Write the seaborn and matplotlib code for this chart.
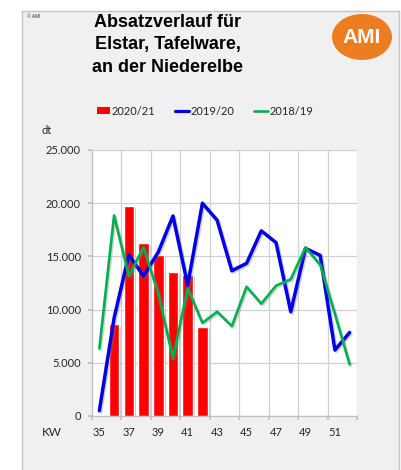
import numpy as np
import pandas as pd
import matplotlib
matplotlib.use("Agg")
import matplotlib.pyplot as plt
import matplotlib.patheffects as pe
from matplotlib.patches import Rectangle, Ellipse, Patch
from matplotlib.lines import Line2D
from matplotlib.ticker import FuncFormatter
import seaborn as sns

# ── data (dt per calendar week) ──
weeks = [35, 36, 37, 38, 39, 40, 41, 42, 43, 44, 45, 46, 47, 48, 49, 50, 51, 52]
season_2020 = [np.nan, 8600, 19700, 16300, 15100, 13500, 13250, 8400,
               np.nan, np.nan, np.nan, np.nan, np.nan, np.nan, np.nan, np.nan, np.nan, np.nan]
season_2019 = [500, 9200, 15150, 13150, 15400, 18800, 12300, 20000, 18400,
               13650, 14350, 17400, 16300, 9800, 15750, 15100, 6200, 7850]
season_2018 = [6350, 18850, 13150, 15850, 11500, 5400, 12000, 8750, 9800,
               8450, 12150, 10550, 12250, 12850, 15850, 14200, 9600, 4850]
labels = ["2020/21", "2019/20", "2018/19"]
colors = ["#ff0000", "#0000e8", "#00b050"]

df = pd.DataFrame({"KW": weeks, "pos": range(len(weeks)),
                   "2020/21": season_2020, "2019/20": season_2019, "2018/19": season_2018})

sns.set_theme(style="white")
plt.rcParams["font.family"] = ["Lato", "DejaVu Sans"]

W, H = 402, 470
fig = plt.figure(figsize=(W / 100, H / 100), dpi=100)
fig.patch.set_facecolor("white")

# grey panel behind everything
fig.patches.append(Rectangle((22 / W, -0.01), 377 / W, (H - 11) / H + 0.01,
                             transform=fig.transFigure, facecolor="#f0f0f0",
                             edgecolor="#c4c4c4", linewidth=1, zorder=-1))

ax = fig.add_axes([92 / W, 54 / H, 265 / W, 266 / H])
ax.set_zorder(2)
ax.set_facecolor("white")

bar_shadow = [pe.SimplePatchShadow(offset=(1.5, -1.5), shadow_rgbFace="#808080", alpha=0.45), pe.Normal()]
line_shadow = [pe.SimpleLineShadow(offset=(1, -1), shadow_color="#808080", alpha=0.35), pe.Normal()]

sns.barplot(data=df, x="pos", y="2020/21", order=list(range(len(weeks))),
            color=colors[0], saturation=1, width=0.72, native_scale=True, ax=ax, zorder=3)
for p in ax.patches:
    p.set_path_effects(bar_shadow)

sns.lineplot(data=df, x="pos", y="2019/20", color=colors[1], linewidth=2.5, ax=ax, zorder=4)
sns.lineplot(data=df, x="pos", y="2018/19", color=colors[2], linewidth=1.9, ax=ax, zorder=5)
for ln in ax.lines:
    ln.set_path_effects(line_shadow)

ax.set_xlim(-0.5, len(weeks) - 0.5)
ax.set_ylim(0, 25000)
ax.set_yticks(range(0, 25001, 5000))
ax.yaxis.set_major_formatter(FuncFormatter(lambda v, _: f"{int(v):,}".replace(",", ".")))

# grid lines sit on every second category boundary, labels sit under the categories
ax.set_xticks(np.arange(-0.5, len(weeks), 2))
ax.set_xticklabels([])
ax.set_xticks(range(0, len(weeks), 2), minor=True)
ax.set_xticklabels([str(w) for w in weeks[::2]], minor=True)
ax.tick_params(axis="x", which="major", length=3, color="#bfbfbf", direction="out", bottom=True)
ax.tick_params(axis="x", which="minor", length=0, pad=8, labelsize=8, labelcolor="#262626")
ax.tick_params(axis="y", length=3, color="#bfbfbf", direction="out", left=True,
               pad=5, labelsize=8, labelcolor="#262626")
ax.grid(True, axis="both", which="major", color="#d0d0d0", linewidth=0.9, zorder=0)
ax.set_axisbelow(True)
for side in ["top", "right"]:
    ax.spines[side].set_visible(False)
for side in ["left", "bottom"]:
    ax.spines[side].set_color("#bfbfbf")
    ax.spines[side].set_linewidth(0.9)
ax.set_xlabel("")
ax.set_ylabel("")

# axis captions
fig.text(42 / W, 1 - 131 / H, "dt", fontsize=8, color="#262626", va="center")
fig.text(42 / W, 1 - 432 / H, "KW", fontsize=8.5, color="#262626", va="center")

# legend
handles = [Patch(facecolor=colors[0], edgecolor="none"),
           Line2D([], [], color=colors[1], linewidth=2.3),
           Line2D([], [], color=colors[2], linewidth=1.9)]
fig.legend(handles, labels, loc="center", bbox_to_anchor=(205 / W, 1 - 111 / H), ncol=3,
           frameon=False, fontsize=8, handlelength=1.2, handleheight=0.6,
           handletextpad=0.15, columnspacing=1.8, labelcolor="#262626")

# title
fig.text(168 / W, 1 - 45 / H, "Absatzverlauf für\nElstar, Tafelware,\nan der Niederelbe",
         ha="center", va="center", fontsize=13, fontweight="bold",
         family=["Liberation Sans", "DejaVu Sans"], linespacing=1.4, color="black")
fig.text(27 / W, 1 - 16 / H, "© AMI", fontsize=3.5, color="#333333", va="center",
         family=["Liberation Sans", "DejaVu Sans"])

# AMI logo
fig.patches.append(Ellipse((362 / W, 1 - 37 / H), 60 / W, 46 / H, transform=fig.transFigure,
                           facecolor="#ee7d22", edgecolor="none", zorder=1))
fig.text(362 / W, 1 - 37.5 / H, "AMI", ha="center", va="center", fontsize=15,
         fontweight="bold", color="white", family=["Liberation Sans", "DejaVu Sans"])

fig.savefig("out.png", dpi=100)
plt.close(fig)
print("saved out.png")
